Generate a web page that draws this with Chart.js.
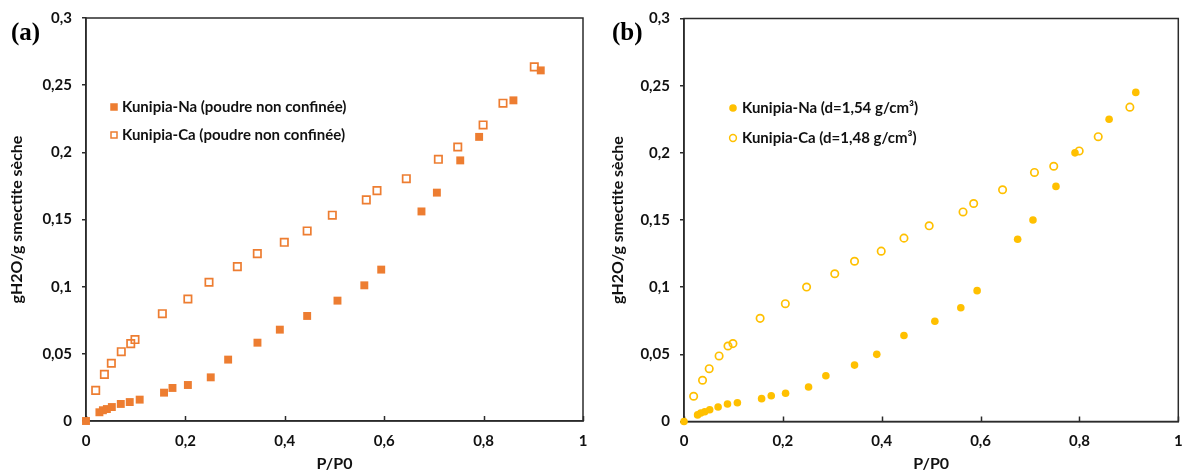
<!DOCTYPE html>
<html><head><meta charset="utf-8">
<script src="https://cdn.jsdelivr.net/npm/chart.js@4/dist/chart.umd.min.js"></script>
<style>
html,body{margin:0;padding:0;background:#fff;overflow:hidden}
#wrap{position:relative;width:1184px;height:471px}
.c{position:absolute;top:0;width:592px;height:471px}
</style></head><body>
<div id="wrap">
<div class="c" style="left:0"><canvas id="ca" width="592" height="471"></canvas></div>
<div class="c" style="left:592px"><canvas id="cb" width="592" height="471"></canvas></div>
</div>
<script>
// ---- data ----
const xTickValues = [0, 0.2, 0.4, 0.6, 0.8, 1];
const xTickLabels = ['0', '0,2', '0,4', '0,6', '0,8', '1'];
const yTickLabels = ['0', '0,05', '0,1', '0,15', '0,2', '0,25', '0,3'];
const xTitle = 'P/P0';
const yTitle = 'gH2O/g smectite sèche';

// Panel (a) : poudre non confinée
const aNaLabel = 'Kunipia-Na (poudre non confinée)';
const aNaX = [0, 0.027, 0.034, 0.042, 0.052, 0.070, 0.088, 0.108, 0.157, 0.174, 0.205, 0.251, 0.286, 0.345, 0.390, 0.445, 0.506, 0.560, 0.594, 0.675, 0.706, 0.753, 0.791, 0.860, 0.915];
const aNaY = [0, 0.0065, 0.008, 0.0089, 0.0104, 0.0127, 0.0141, 0.0159, 0.0211, 0.0246, 0.0268, 0.0325, 0.0457, 0.0583, 0.068, 0.0782, 0.0896, 0.101, 0.1127, 0.156, 0.170, 0.194, 0.2115, 0.2387, 0.261];
const aCaLabel = 'Kunipia-Ca (poudre non confinée)';
const aCaX = [0.0195, 0.037, 0.051, 0.071, 0.090, 0.0986, 0.1536, 0.205, 0.2475, 0.3045, 0.3447, 0.399, 0.445, 0.4956, 0.564, 0.5855, 0.6445, 0.709, 0.748, 0.799, 0.839, 0.902];
const aCaY = [0.0228, 0.0347, 0.043, 0.0516, 0.0576, 0.0606, 0.0799, 0.0908, 0.1033, 0.1149, 0.1246, 0.133, 0.1415, 0.1532, 0.1646, 0.1715, 0.1804, 0.1948, 0.204, 0.2204, 0.2366, 0.2636];

// Panel (b) : compacté
const bNaLabel = 'Kunipia-Na (d=1,54 g/cm³)';
const bNaX = [0, 0.0275, 0.034, 0.042, 0.052, 0.069, 0.088, 0.108, 0.157, 0.1765, 0.2055, 0.252, 0.287, 0.345, 0.390, 0.445, 0.5075, 0.560, 0.593, 0.675, 0.706, 0.7525, 0.791, 0.860, 0.914];
const bNaY = [0, 0.0049, 0.0063, 0.0073, 0.0088, 0.0108, 0.013, 0.014, 0.017, 0.0192, 0.021, 0.0257, 0.0341, 0.042, 0.050, 0.064, 0.0746, 0.0847, 0.0974, 0.1357, 0.150, 0.175, 0.200, 0.225, 0.245];
const bCaLabel = 'Kunipia-Ca (d=1,48 g/cm³)';
const bCaX = [0.0195, 0.0375, 0.051, 0.071, 0.089, 0.099, 0.154, 0.205, 0.248, 0.305, 0.345, 0.399, 0.445, 0.496, 0.5645, 0.586, 0.6445, 0.709, 0.748, 0.7995, 0.838, 0.902];
const bCaY = [0.0188, 0.0307, 0.0393, 0.0488, 0.0562, 0.058, 0.0768, 0.0877, 0.1001, 0.110, 0.1193, 0.1268, 0.1365, 0.1457, 0.156, 0.1623, 0.1725, 0.1854, 0.190, 0.2014, 0.212, 0.234];

// ---- styles ----
const ORANGE = '#ED7D31';
const GOLD = '#FFC000';
const AXIS = '#2b2b2b';
const TEXT = '#111111';
const FONT = 'Lato';
Chart.defaults.font.family = FONT;
Chart.defaults.color = TEXT;

function pts(xs, ys) { return xs.map((x, i) => ({x: x, y: ys[i]})); }

function decorPlugin(panel, legend) {
  return {
    id: 'decor' + panel.text,
    beforeDatasetsDraw(chart) {
      const {ctx, chartArea: a, scales: {x}} = chart;
      ctx.save();
      ctx.strokeStyle = AXIS;
      ctx.lineWidth = 1.5;
      ctx.strokeRect(a.left, a.top, a.right - a.left, a.bottom - a.top);
      xTickValues.forEach(v => {
        const px = Math.round(x.getPixelForValue(v)) + 0.5;
        ctx.beginPath();
        ctx.moveTo(px, a.bottom);
        ctx.lineTo(px, a.bottom - 5);
        ctx.stroke();
      });
      ctx.restore();
    },
    afterDraw(chart) {
      const {ctx} = chart;
      ctx.save();
      // panel letter
      ctx.font = 'bold 25px "Liberation Serif"';
      ctx.fillStyle = '#000';
      ctx.textBaseline = 'middle';
      ctx.textAlign = 'left';
      ctx.fillText(panel.text, panel.x, panel.y);
      // legend
      ctx.font = 'bold 15px ' + FONT;
      legend.items.forEach((it, i) => {
        const ds = chart.data.datasets[it.ds];
        const cy = legend.y + i * legend.gap;
        const cx = legend.x;
        ctx.lineWidth = 1.5;
        ctx.strokeStyle = ds.pointBorderColor;
        ctx.fillStyle = ds.pointBackgroundColor;
        if (ds.pointStyle === 'rect') {
          const s = 7.5;
          if (it.filled) ctx.fillRect(cx - s / 2, cy - s / 2, s, s);
          else ctx.strokeRect(cx - s / 2 + 0.75, cy - s / 2 + 0.75, s - 1.5, s - 1.5);
        } else {
          ctx.beginPath();
          ctx.arc(cx, cy, it.filled ? 3.8 : 3.4, 0, Math.PI * 2);
          if (it.filled) ctx.fill(); else ctx.stroke();
        }
        ctx.fillStyle = TEXT;
        ctx.textBaseline = 'middle';
        ctx.fillText(ds.label, cx + legend.textOffset, cy + 0.5);
      });
      ctx.restore();
    }
  };
}

function makeChart(id, datasets, geo, panel, legend) {
  return new Chart(document.getElementById(id), {
    type: 'scatter',
    data: {datasets: datasets},
    options: {
      responsive: false,
      animation: false,
      devicePixelRatio: 1,
      events: [],
      layout: {padding: {left: geo.padLeft, right: geo.padRight, top: geo.top, bottom: 0}},
      plugins: {legend: {display: false}, tooltip: {enabled: false}},
      scales: {
        x: {
          type: 'linear', min: 0, max: 1,
          afterBuildTicks: s => { s.ticks = xTickValues.map(v => ({value: v})); },
          afterFit: s => { s.height = geo.xHeight; s.paddingLeft = 0; s.paddingRight = 0; },
          ticks: {
            padding: 11,
            maxRotation: 0,
            font: {size: 15, weight: 'bold'},
            color: TEXT,
            callback: (v, i) => xTickLabels[i]
          },
          grid: {drawOnChartArea: false, drawTicks: false},
          border: {display: true, color: AXIS, width: 1.5},
          title: {display: true, text: xTitle, font: {size: 16, weight: 'bold'}, color: TEXT, padding: {top: 0, bottom: -2}}
        },
        y: {
          type: 'linear', min: 0, max: 0.3,
          afterBuildTicks: s => { s.ticks = yTickLabels.map((t, i) => ({value: i * 0.05})); },
          afterFit: s => { s.width = geo.yWidth; s.paddingTop = 0; s.paddingBottom = 0; },
          ticks: {
            padding: 10,
            font: {size: 15, weight: 'bold'},
            color: TEXT,
            callback: (v, i) => yTickLabels[i]
          },
          grid: {drawOnChartArea: false, drawTicks: true, tickLength: 4, color: AXIS, lineWidth: 1.5},
          border: {display: true, color: AXIS, width: 1.5},
          title: {display: true, text: yTitle, font: {size: 16, weight: 'bold'}, color: TEXT, padding: {top: 0, bottom: 0}}
        }
      }
    },
    plugins: [decorPlugin(panel, legend)]
  });
}

// Panel (a)
makeChart('ca', [
  {label: aNaLabel, data: pts(aNaX, aNaY), pointStyle: 'rect', pointRadius: 5.6, pointBackgroundColor: ORANGE, pointBorderColor: ORANGE, pointBorderWidth: 0, clip: false, order: 1},
  {label: aCaLabel, data: pts(aCaX, aCaY), pointStyle: 'rect', pointRadius: 5.2, pointBackgroundColor: 'rgba(255,255,255,0)', pointBorderColor: ORANGE, pointBorderWidth: 1.7, clip: false, order: 2}
], {padLeft: 7.5, padRight: 9, top: 18, xHeight: 50, yWidth: 78.5},
  {text: '(a)', x: 11, y: 34},
  {x: 114, y: 107, gap: 28, textOffset: 8, items: [{ds: 0, filled: true}, {ds: 1, filled: false}]});

// Panel (b)
makeChart('cb', [
  {label: bNaLabel, data: pts(bNaX, bNaY), pointStyle: 'circle', pointRadius: 3.8, pointBackgroundColor: GOLD, pointBorderColor: GOLD, pointBorderWidth: 0, clip: false, order: 1},
  {label: bCaLabel, data: pts(bCaX, bCaY), pointStyle: 'circle', pointRadius: 3.7, pointBackgroundColor: 'rgba(255,255,255,0)', pointBorderColor: GOLD, pointBorderWidth: 1.7, clip: false, order: 0}
], {padLeft: 16, padRight: 3, top: 18.5, xHeight: 49.5, yWidth: 76},
  {text: '(b)', x: 20, y: 34},
  {x: 141, y: 108, gap: 30, textOffset: 9, items: [{ds: 0, filled: true}, {ds: 1, filled: false}]});
</script>
</body></html>
